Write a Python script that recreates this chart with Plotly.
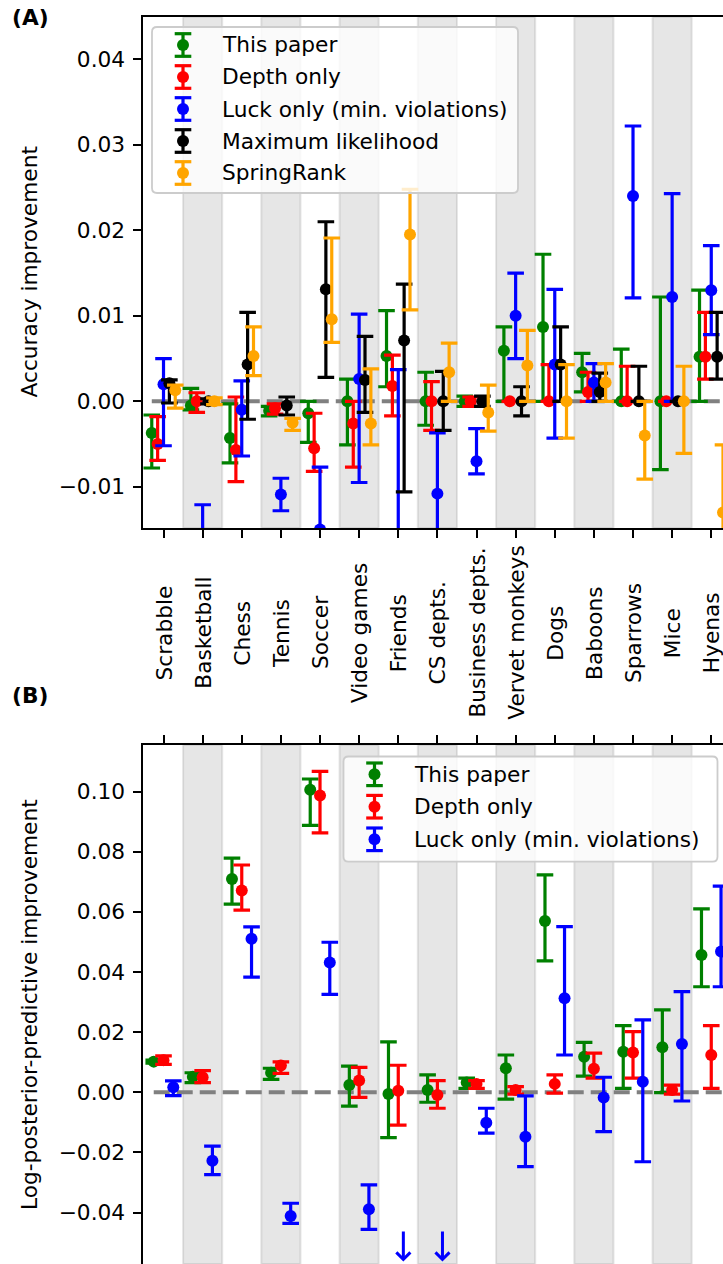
import plotly.graph_objects as go

W, H = 723, 1264
FONT = "DejaVu Sans"
FS = 21.7

categories = ["Scrabble", "Basketball", "Chess", "Tennis", "Soccer", "Video games",
              "Friends", "CS depts.", "Business depts.", "Vervet monkeys", "Dogs",
              "Baboons", "Sparrows", "Mice", "Hyenas"]

# ---- (A) accuracy improvement: estimate, lower and upper end of interval ----
acc_this_paper    = [-0.0037, -0.0005, -0.0043, -0.0011, -0.0014, 0.0, 0.0053, 0.0, 0.0, 0.0059, 0.0087, 0.0034, 0.0, 0.0, 0.0052]
acc_this_paper_lo = [-0.0078, -0.0010, -0.0072, -0.0017, -0.0048, -0.0051, 0.0017, -0.0028, -0.0006, 0.0, 0.0, 0.0011, 0.0, -0.0080, 0.0]
acc_this_paper_hi = [-0.0016, 0.0015, -0.0003, -0.0006, 0.0, 0.0026, 0.0106, 0.0034, 0.0006, 0.0087, 0.0172, 0.0056, 0.0061, 0.0122, 0.0130]

acc_depth    = [-0.0050, 0.0, -0.0057, -0.0008, -0.0055, -0.0026, 0.0018, 0.0, 0.0, 0.0, 0.0, 0.0011, 0.0, 0.0, 0.0052]
acc_depth_lo = [-0.0069, -0.0013, -0.0094, -0.0015, -0.0082, -0.0077, -0.0017, -0.0034, -0.0006, 0.0, 0.0, 0.0, 0.0, 0.0, 0.0026]
acc_depth_hi = [-0.0018, 0.0010, 0.0005, -0.0003, -0.0014, 0.0, 0.0054, 0.0023, 0.0005, 0.0, 0.0043, 0.0034, 0.0041, 0.0, 0.0104]

acc_luck    = [0.0020, -0.0210, -0.0010, -0.0109, -0.0150, 0.0026, -0.0170, -0.0108, -0.0070, 0.0100, 0.0043, 0.0022, 0.0240, 0.0122, 0.0130]
acc_luck_lo = [-0.0052, -0.0300, -0.0064, -0.0128, -0.0223, -0.0095, -0.0377, -0.0179, -0.0085, 0.0050, -0.0043, 0.0, 0.0121, 0.0, 0.0078]
acc_luck_hi = [0.0050, -0.0121, 0.0024, -0.0090, -0.0077, 0.0102, 0.0037, -0.0037, -0.0032, 0.0150, 0.0131, 0.0044, 0.0322, 0.0243, 0.0182]

acc_ml    = [0.0021, 0.0, 0.0043, -0.0005, 0.0131, 0.0025, 0.0071, 0.0, 0.0, 0.0, 0.0043, 0.0011, 0.0, 0.0, 0.0052]
acc_ml_lo = [-0.0002, -0.0003, -0.0021, -0.0016, 0.0028, -0.0013, -0.0106, -0.0034, -0.0006, -0.0017, 0.0, 0.0, 0.0, 0.0, 0.0026]
acc_ml_hi = [0.0025, 0.0003, 0.0104, 0.0005, 0.0210, 0.0076, 0.0137, 0.0035, 0.0006, 0.0017, 0.0087, 0.0033, 0.0041, 0.0, 0.0104]

acc_springrank    = [0.0013, 0.0, 0.0053, -0.0025, 0.0096, -0.0026, 0.0195, 0.0034, -0.0013, 0.0042, 0.0, 0.0022, -0.0040, 0.0, -0.0130]
acc_springrank_lo = [-0.0008, -0.0004, 0.0030, -0.0034, 0.0069, -0.0051, 0.0107, 0.0, -0.0035, 0.0, -0.0043, 0.0, -0.0091, -0.0061, -0.0210]
acc_springrank_hi = [0.0019, 0.0004, 0.0087, -0.0020, 0.0191, 0.0038, 0.0248, 0.0068, 0.0019, 0.0083, 0.0043, 0.0044, 0.0, 0.0041, -0.0051]

# ---- (B) log-posterior-predictive improvement ----
lpp_this_paper    = [0.0102, 0.0052, 0.0709, 0.0065, 0.1006, 0.0024, -0.0006, 0.0008, 0.0033, 0.0080, 0.0570, 0.0118, 0.0135, 0.0150, 0.0457]
lpp_this_paper_lo = [0.0097, 0.0032, 0.0626, 0.0043, 0.0888, -0.0046, -0.0151, -0.0033, 0.0013, -0.0023, 0.0437, 0.0054, 0.0013, -0.0001, 0.0351]
lpp_this_paper_hi = [0.0107, 0.0065, 0.0779, 0.0080, 0.1042, 0.0087, 0.0168, 0.0058, 0.0047, 0.0124, 0.0723, 0.0166, 0.0222, 0.0274, 0.0610]

lpp_depth    = [0.0107, 0.0050, 0.0671, 0.0089, 0.0987, 0.0039, 0.0005, -0.0009, 0.0028, 0.0008, 0.0028, 0.0078, 0.0132, 0.0008, 0.0124]
lpp_depth_lo = [0.0093, 0.0032, 0.0606, 0.0063, 0.0863, -0.0017, -0.0109, -0.0053, 0.0013, -0.0006, -0.0003, 0.0047, 0.0047, -0.0006, 0.0013]
lpp_depth_hi = [0.0121, 0.0072, 0.0756, 0.0101, 0.1067, 0.0083, 0.0090, 0.0039, 0.0039, 0.0019, 0.0058, 0.0130, 0.0202, 0.0024, 0.0222]

lpp_luck    = [0.0017, -0.0228, 0.0511, -0.0411, 0.0432, -0.0389, None, None, -0.0101, -0.0148, 0.0313, -0.0017, 0.0035, 0.0161, 0.0468]
lpp_luck_lo = [-0.0011, -0.0274, 0.0383, -0.0436, 0.0326, -0.0456, None, None, -0.0136, -0.0247, 0.0124, -0.0131, -0.0231, -0.0029, 0.0351]
lpp_luck_hi = [0.0038, -0.0179, 0.0550, -0.0369, 0.0499, -0.0308, None, None, -0.0053, -0.0012, 0.0551, 0.0050, 0.0241, 0.0335, 0.0686]
lpp_luck_below_axis = ["Friends", "CS depts."]

names_a = ["This paper", "Depth only", "Luck only (min. violations)", "Maximum likelihood", "SpringRank"]
colors_a = ["green", "red", "blue", "black", "orange"]
offsets_a = [-0.3, -0.15, 0.0, 0.15, 0.3]
series_a = [
    (acc_this_paper, acc_this_paper_lo, acc_this_paper_hi),
    (acc_depth, acc_depth_lo, acc_depth_hi),
    (acc_luck, acc_luck_lo, acc_luck_hi),
    (acc_ml, acc_ml_lo, acc_ml_hi),
    (acc_springrank, acc_springrank_lo, acc_springrank_hi),
]

names_b = names_a[:3]
colors_b = colors_a[:3]
offsets_b = [-0.25, 0.0, 0.25]
series_b = [
    (lpp_this_paper, lpp_this_paper_lo, lpp_this_paper_hi),
    (lpp_depth, lpp_depth_lo, lpp_depth_hi),
    (lpp_luck, lpp_luck_lo, lpp_luck_hi),
]

# ---- layout geometry (pixels of the page) ----
AX_LEFT = 142.5
A_TOP, A_BOT = 17, 528
B_TOP = 745
X_RANGE = [-0.537, 14.30]
A_RANGE = [-0.01482, 0.04495]
B_RANGE = [-0.0571, 0.1155]

def px(x):
    return x / W

def py(y):
    return 1 - y / H

MARK = 12
LW = 3.2
CAP = 8.3

fig = go.Figure()

def add_series(vals, lo, hi, off, color, name, xa, ya):
    xs = [i + off for i in range(len(categories))]
    plus = [None if v is None else h - v for v, h in zip(vals, hi)]
    minus = [None if v is None else v - l for v, l in zip(vals, lo)]
    fig.add_trace(go.Scatter(
        x=xs, y=vals, mode="markers", name=name, showlegend=False,
        xaxis=xa, yaxis=ya,
        marker=dict(color=color, size=MARK, line=dict(width=0)),
        error_y=dict(type="data", symmetric=False, array=plus, arrayminus=minus,
                     color=color, thickness=LW, width=CAP),
    ))

# zero reference lines
for xa, ya, start in (("x", "y", -0.3), ("x2", "y2", -0.25)):
    fig.add_trace(go.Scatter(x=[start, 15], y=[0, 0], mode="lines", xaxis=xa, yaxis=ya,
                             showlegend=False, hoverinfo="skip",
                             line=dict(color="gray", width=4, dash="16px,7px")))

for (v, lo, hi), off, c, n in zip(series_a, offsets_a, colors_a, names_a):
    add_series(v, lo, hi, off, c, n, "x", "y")
for (v, lo, hi), off, c, n in zip(series_b, offsets_b, colors_b, names_b):
    add_series(v, lo, hi, off, c, n, "x2", "y2")

shapes = []
annotations = []

# alternating shaded columns
for i in range(len(categories)):
    if i % 2 == 1:
        for xr, yr in (("x", "y domain"), ("x2", "y2 domain")):
            shapes.append(dict(type="rect", xref=xr, yref=yr, x0=i - 0.5, x1=i + 0.5, y0=0, y1=1,
                               fillcolor="rgba(128,128,128,0.2)",
                               line=dict(color="rgba(128,128,128,0.2)", width=2), layer="below"))

# arrows for off-scale values in panel B
for name in lpp_luck_below_axis:
    i = categories.index(name)
    annotations.append(dict(x=i + 0.13, y=-0.0563, ax=i + 0.13, ay=-0.0458,
                            xref="x2", yref="y2", axref="x2", ayref="y2",
                            showarrow=True, arrowhead=4, arrowsize=0.9, arrowwidth=3,
                            arrowcolor="blue", text=""))

# category labels under panel A
for i, name in enumerate(categories):
    annotations.append(dict(x=i, xref="x", y=py(633), yref="paper", text=name, textangle=-90,
                            showarrow=False, xanchor="center", yanchor="middle",
                            font=dict(family=FONT, size=FS, color="black")))

# hand-built legends: frame, error-bar glyph and label for each entry
def legend(x0, y0, x1, y1, rows, names, colors):
    r = 5
    X0, X1, Y0, Y1 = px(x0), px(x1), py(y1), py(y0)
    rx, ry = r / W, r / H
    path = (f"M {X0+rx},{Y1} L {X1-rx},{Y1} Q {X1},{Y1} {X1},{Y1-ry} "
            f"L {X1},{Y0+ry} Q {X1},{Y0} {X1-rx},{Y0} L {X0+rx},{Y0} "
            f"Q {X0},{Y0} {X0},{Y0+ry} L {X0},{Y1-ry} Q {X0},{Y1} {X0+rx},{Y1} Z")
    shapes.append(dict(type="path", xref="paper", yref="paper", path=path,
                       fillcolor="rgba(255,255,255,0.8)",
                       line=dict(color="#cccccc", width=1.8), layer="above"))
    hx = x0 + 31
    tx = x0 + 68
    for yrow, n, c in zip(rows, names, colors):
        shapes.append(dict(type="line", xref="paper", yref="paper", x0=px(hx), x1=px(hx),
                           y0=py(yrow - 11.3), y1=py(yrow + 11.3), line=dict(color=c, width=LW), layer="above"))
        for dy in (-11.3, 11.3):
            shapes.append(dict(type="line", xref="paper", yref="paper", x0=px(hx - CAP), x1=px(hx + CAP),
                               y0=py(yrow + dy), y1=py(yrow + dy), line=dict(color=c, width=LW), layer="above"))
        shapes.append(dict(type="circle", xref="paper", yref="paper",
                           x0=px(hx - MARK / 2), x1=px(hx + MARK / 2),
                           y0=py(yrow + MARK / 2), y1=py(yrow - MARK / 2),
                           fillcolor=c, line=dict(width=0), layer="above"))
        annotations.append(dict(x=px(tx), y=py(yrow), xref="paper", yref="paper", text=n,
                                showarrow=False, xanchor="left", yanchor="middle",
                                font=dict(family=FONT, size=FS, color="black")))

legend(152, 27, 518, 193, [45, 77, 109, 141, 173], names_a, colors_a)
legend(343.5, 756.5, 717.5, 861.7, [774.3, 806.7, 839.3], names_b, colors_b)

# axis titles and panel tags
annotations.append(dict(x=px(29), y=py((A_TOP + A_BOT) / 2), xref="paper", yref="paper",
                        text="Accuracy improvement", textangle=-90, showarrow=False,
                        xanchor="center", yanchor="middle", font=dict(family=FONT, size=FS, color="black")))
annotations.append(dict(x=px(29), y=py(1005), xref="paper", yref="paper",
                        text="Log-posterior-predictive improvement", textangle=-90, showarrow=False,
                        xanchor="center", yanchor="middle", font=dict(family=FONT, size=FS, color="black")))
for tag, yy in (("(A)", 18), ("(B)", 695)):
    annotations.append(dict(x=px(10), y=py(yy), xref="paper", yref="paper", text=f"<b>{tag}</b>",
                            showarrow=False, xanchor="left", yanchor="middle",
                            font=dict(family=FONT, size=FS, color="black")))

tickfont = dict(family=FONT, size=FS, color="black")
common_x = dict(range=X_RANGE, tickvals=list(range(len(categories))), showticklabels=False,
                ticks="outside", ticklen=8, tickwidth=2, tickcolor="black",
                showline=True, linecolor="black", linewidth=2, showgrid=False, zeroline=False,
                domain=[AX_LEFT / W, 1])
common_y = dict(ticks="outside", ticklen=8, tickwidth=2, tickcolor="black", tickformat=".2f",
                showline=True, linecolor="black", linewidth=2, showgrid=False, zeroline=False,
                tickfont=tickfont, ticklabelstandoff=3)

fig.update_layout(
    width=W, height=H,
    margin=dict(l=0, r=0, t=0, b=0),
    paper_bgcolor="white", plot_bgcolor="white",
    font=dict(family=FONT, size=FS, color="black"),
    showlegend=False,
    xaxis=dict(**common_x, anchor="y", mirror=True, side="bottom"),
    yaxis=dict(**common_y, range=A_RANGE, tickvals=[-0.01, 0.0, 0.01, 0.02, 0.03, 0.04],
               domain=[py(A_BOT), py(A_TOP)], anchor="x"),
    xaxis2=dict(**common_x, anchor="y2", side="top", mirror=False),
    yaxis2=dict(**common_y, range=B_RANGE, tickvals=[-0.04, -0.02, 0.0, 0.02, 0.04, 0.06, 0.08, 0.10],
                domain=[0, py(B_TOP)], anchor="x2"),
    shapes=shapes,
    annotations=annotations,
)

fig.write_html("out.html")
